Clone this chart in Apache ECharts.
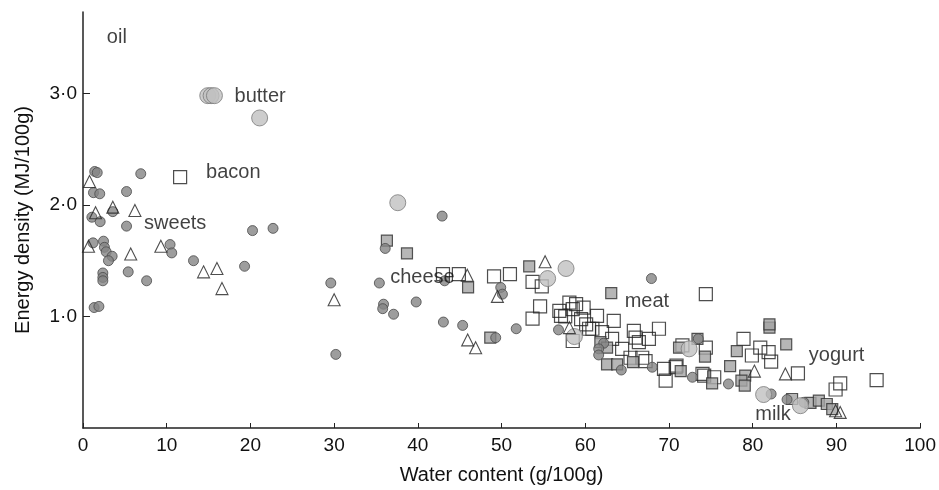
<!DOCTYPE html>
<html><head><meta charset="utf-8">
<script src="https://cdn.jsdelivr.net/npm/echarts@6/dist/echarts.min.js"></script>
<style>html,body{margin:0;padding:0;background:#fff}#c{width:939px;height:490px}</style>
</head><body><div id="c"></div>
<script>
const xTicks = [0,10,20,30,40,50,60,70,80,90,100];
const yTicks = [1,2,3];

const smallCircles = [
 [1.4,2.30],[1.7,2.29],[1.25,2.11],[2.0,2.10],[5.2,2.12],[6.9,2.28],
 [1.06,1.89],[2.05,1.85],[3.56,1.94],[5.2,1.81],
 [1.2,1.66],[2.45,1.675],[2.56,1.62],[2.77,1.58],[3.48,1.54],[3.04,1.50],
 [2.37,1.39],[2.37,1.35],[2.37,1.32],[5.4,1.40],[7.6,1.32],
 [1.33,1.08],[1.9,1.09],[10.4,1.645],[10.6,1.57],[13.2,1.50],[19.3,1.45],[20.25,1.77],[22.7,1.79],
 [42.9,1.90],[36.1,1.61],[29.6,1.30],[35.4,1.30],[35.9,1.11],[35.8,1.07],[37.1,1.02],[39.8,1.13],
 [30.2,0.66],[43.2,1.32],[43.05,0.95],[45.35,0.92],[49.3,0.81],[49.9,1.26],[50.1,1.20],[51.75,0.89],
 [67.9,1.34],[56.8,0.88],[62.2,0.76],[61.6,0.71],[61.6,0.655],[64.3,0.52],[68.0,0.545],
 [72.8,0.455],[73.5,0.80],[77.1,0.395],[82.2,0.305],[84.1,0.255],[86.1,0.23]
];
const largeCircles = [
 [14.9,2.98],[15.3,2.98],[15.7,2.98],[21.1,2.78],[37.6,2.02],[57.7,1.43],[55.5,1.34],
 [58.7,0.82],[72.4,0.71],[81.3,0.30],[85.7,0.20]
];
const graySquares = [
 [36.3,1.68],[38.7,1.565],[46.0,1.26],[48.65,0.81],[53.3,1.45],[63.1,1.21],
 [61.8,0.77],[62.6,0.72],[62.6,0.57],[63.8,0.57],[65.7,0.59],[71.4,0.51],[75.15,0.40],
 [73.4,0.80],[71.2,0.72],[74.3,0.64],[78.1,0.69],[82.0,0.90],[82.0,0.93],[84.0,0.75],
 [77.3,0.555],[79.1,0.47],[78.65,0.425],[79.05,0.38],[84.7,0.26],[86.9,0.225],
 [87.9,0.245],[88.85,0.215],[89.5,0.17]
];
const openSquares = [
 [11.6,2.25],[43.0,1.38],[44.9,1.38],[49.1,1.36],[51.0,1.38],[53.7,1.31],[54.8,1.27],
 [54.6,1.09],[53.7,0.98],
 [56.9,1.05],[58.1,1.125],[58.5,1.065],[58.9,1.11],[57.1,1.005],[57.6,1.00],[59.5,0.976],
 [59.8,1.08],[60.1,0.93],[61.4,1.005],[63.4,0.96],[60.45,0.89],[60.85,0.89],[58.5,0.78],
 [62.0,0.86],[63.2,0.80],
 [65.8,0.87],[66.0,0.81],[66.4,0.77],[67.6,0.80],[68.8,0.89],[64.4,0.71],[65.4,0.63],
 [66.8,0.63],[67.2,0.60],
 [69.4,0.53],[69.6,0.425],[70.8,0.545],[70.9,0.56],[74.0,0.485],[74.2,0.47],[75.4,0.455],
 [71.6,0.74],[74.4,0.72],[74.4,1.20],
 [78.9,0.80],[80.9,0.72],[79.9,0.65],[81.9,0.68],[82.2,0.595],[85.4,0.49],
 [90.45,0.40],[89.9,0.345],[94.8,0.43]
];
const triangles = [
 [0.78,2.21],[1.5,1.93],[3.56,1.98],[6.2,1.95],[0.66,1.63],[5.7,1.56],[9.3,1.63],
 [14.4,1.40],[16.0,1.43],[16.6,1.25],
 [30.0,1.15],[45.9,1.37],[45.95,0.79],[46.9,0.72],[49.5,1.18],[55.2,1.49],[58.1,0.90],
 [80.2,0.51],[83.9,0.485],[89.9,0.155],[90.45,0.14]
];
const labelNames = ['oil','butter','bacon','sweets','cheese','meat','yogurt','milk'];
const labelX = [2.85,18.1,14.7,7.3,36.7,64.7,86.7,80.3];
const labelY = [3.50,2.97,2.29,1.83,1.35,1.13,0.65,0.12];

const FONT = "'Liberation Sans', Arial, sans-serif";
const chart = echarts.init(document.getElementById('c'), null, {renderer:'canvas'});
const fmt = v => v.toFixed(1).replace('.', '\u00b7');

chart.setOption({
  animation:false,
  backgroundColor:'#fff',
  textStyle:{fontFamily:FONT},
  grid:{left:83,right:17,top:12,bottom:61,containLabel:false},
  xAxis:{
    type:'value',min:0,max:100,interval:10,
    axisLine:{lineStyle:{color:'#222',width:1.5}},
    axisTick:{show:true,inside:true,length:5,lineStyle:{color:'#222'},customValues:xTicks},
    axisLabel:{fontSize:19,color:'#111',margin:8,fontFamily:FONT,customValues:xTicks},
    splitLine:{show:false},
    name:'Water content (g/100g)',nameLocation:'middle',nameGap:37,
    nameTextStyle:{fontSize:20,color:'#111',fontFamily:FONT}
  },
  yAxis:{
    type:'value',min:0,max:3.73,interval:1,
    axisLine:{show:true,lineStyle:{color:'#222',width:1.5}},
    axisTick:{show:true,inside:true,length:7,lineStyle:{color:'#222'},customValues:yTicks},
    axisLabel:{fontSize:19,color:'#111',margin:6,fontFamily:FONT,customValues:yTicks,formatter:fmt},
    splitLine:{show:false},
    name:'Energy density (MJ/100g)',nameLocation:'middle',nameGap:50,nameRotate:90,
    nameTextStyle:{fontSize:20,color:'#111',fontFamily:FONT}
  },
  series:[
    {type:'scatter',name:'open squares',symbol:'rect',symbolSize:13,data:openSquares,
     itemStyle:{color:'rgba(255,255,255,0)',borderColor:'#222',borderWidth:1.2}},
    {type:'scatter',name:'gray squares',symbol:'rect',symbolSize:11,data:graySquares,
     itemStyle:{color:'#a4a4a4',borderColor:'#2e2e2e',borderWidth:1.2}},
    {type:'scatter',name:'small circles',symbol:'circle',symbolSize:10,data:smallCircles,
     itemStyle:{color:'#858585',borderColor:'#4a4a4a',borderWidth:1}},
    {type:'scatter',name:'large circles',symbol:'circle',symbolSize:16,data:largeCircles,
     itemStyle:{color:'#c0c0c0',borderColor:'#7a7a7a',borderWidth:1}},
    {type:'scatter',name:'triangles',symbol:'triangle',symbolSize:12,data:triangles,
     itemStyle:{color:'rgba(255,255,255,0)',borderColor:'#222',borderWidth:1.1}},
    {type:'scatter',name:'labels',symbolSize:0,silent:true,
     data:labelNames.map((n,i)=>({name:n,value:[labelX[i],labelY[i]]})),
     label:{show:true,position:'right',distance:0,formatter:'{b}',fontSize:20,color:'#111',fontFamily:FONT}}
  ]
});
</script></body></html>
